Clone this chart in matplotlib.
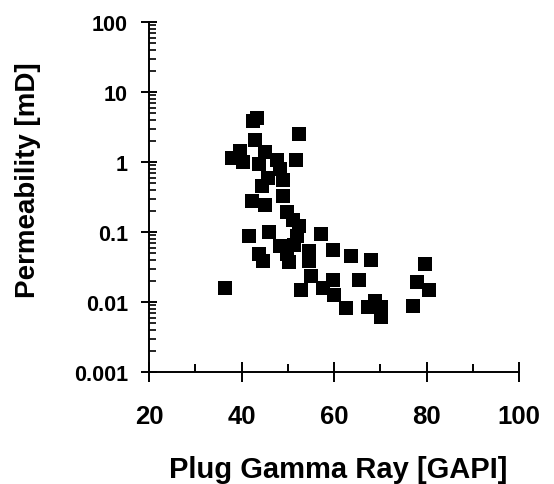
import matplotlib
matplotlib.use('Agg')
import matplotlib.pyplot as plt
from matplotlib.ticker import FixedLocator, LogLocator, NullFormatter

plt.rcParams['font.family'] = ['Liberation Sans', 'DejaVu Sans']
plt.rcParams['font.weight'] = 'bold'

# plug gamma ray [GAPI] vs permeability [mD]
gamma_ray = [42.5, 43.4, 52.4, 42.9, 39.7, 37.9, 40.3, 45.1, 43.8, 47.7,
             51.8, 48.3, 45.7, 49.0, 44.4, 49.0, 42.3, 45.1, 49.8, 51.1,
             52.4, 41.6, 45.9, 57.2, 52.0, 48.3, 51.4, 54.6, 59.8, 63.7,
             43.8, 44.6, 49.8, 50.3, 54.6, 68.0, 79.7, 55.0, 59.8, 57.6,
             65.4, 77.9, 80.5, 36.4, 52.9, 60.0, 62.6, 68.9, 67.4, 70.2,
             70.2, 77.1]
permeability = [3.85, 4.25, 2.5, 2.06, 1.44, 1.14, 1.0, 1.39, 0.94, 1.07,
                1.07, 0.79, 0.59, 0.55, 0.45, 0.33, 0.28, 0.24, 0.19, 0.15,
                0.12, 0.088, 0.10, 0.094, 0.088, 0.063, 0.065, 0.054, 0.055, 0.045,
                0.049, 0.0385, 0.049, 0.037, 0.0385, 0.040, 0.035, 0.0235, 0.0206, 0.0158,
                0.0206, 0.0193, 0.0148, 0.0158, 0.0148, 0.0126, 0.0082, 0.0103, 0.0085, 0.0085,
                0.0061, 0.0088]

x_ticks = [20, 40, 60, 80, 100]
x_minor = [30, 50, 70, 90]
y_ticks = [0.001, 0.01, 0.1, 1, 10, 100]
y_labels = ['0.001', '0.01', '0.1', '1', '10', '100']

fig = plt.figure(figsize=(5.54, 4.85), dpi=100)
ax = fig.add_axes([149 / 554, 112 / 485, 370 / 554, 350 / 485])

ax.plot(gamma_ray, permeability, linestyle='none', marker='s',
        markersize=9.4, color='black', markeredgewidth=0)

ax.set_yscale('log')
ax.set_xlim(20, 100)
ax.set_ylim(0.001, 100)

for s in ['top', 'right']:
    ax.spines[s].set_visible(False)
for s in ['left', 'bottom']:
    ax.spines[s].set_linewidth(1.4)

ax.set_xticks(x_ticks)
ax.set_xticklabels([str(v) for v in x_ticks])
ax.xaxis.set_minor_locator(FixedLocator(x_minor))
ax.set_yticks(y_ticks)
ax.set_yticklabels(y_labels)
ax.yaxis.set_minor_locator(LogLocator(base=10, subs=range(2, 10)))
ax.yaxis.set_minor_formatter(NullFormatter())

ax.tick_params(axis='x', which='major', direction='inout', length=14.4,
               width=1.4, pad=16, labelsize=18.5)
ax.tick_params(axis='x', which='minor', direction='in', length=6, width=1.4)
ax.tick_params(axis='y', which='major', direction='inout', length=12.2,
               width=1.4, pad=9, labelsize=15.5)
ax.tick_params(axis='y', which='minor', direction='in', length=5, width=1.2)

fig.text(338 / 554, 7 / 485, 'Plug Gamma Ray [GAPI]', fontsize=21,
         fontweight='bold', ha='center', va='baseline')
fig.text(35 / 554, 1 - 180 / 485, 'Permeability [mD]', fontsize=20,
         fontweight='bold', rotation=90, rotation_mode='anchor',
         ha='center', va='baseline')

fig.savefig('out.png', dpi=100)
